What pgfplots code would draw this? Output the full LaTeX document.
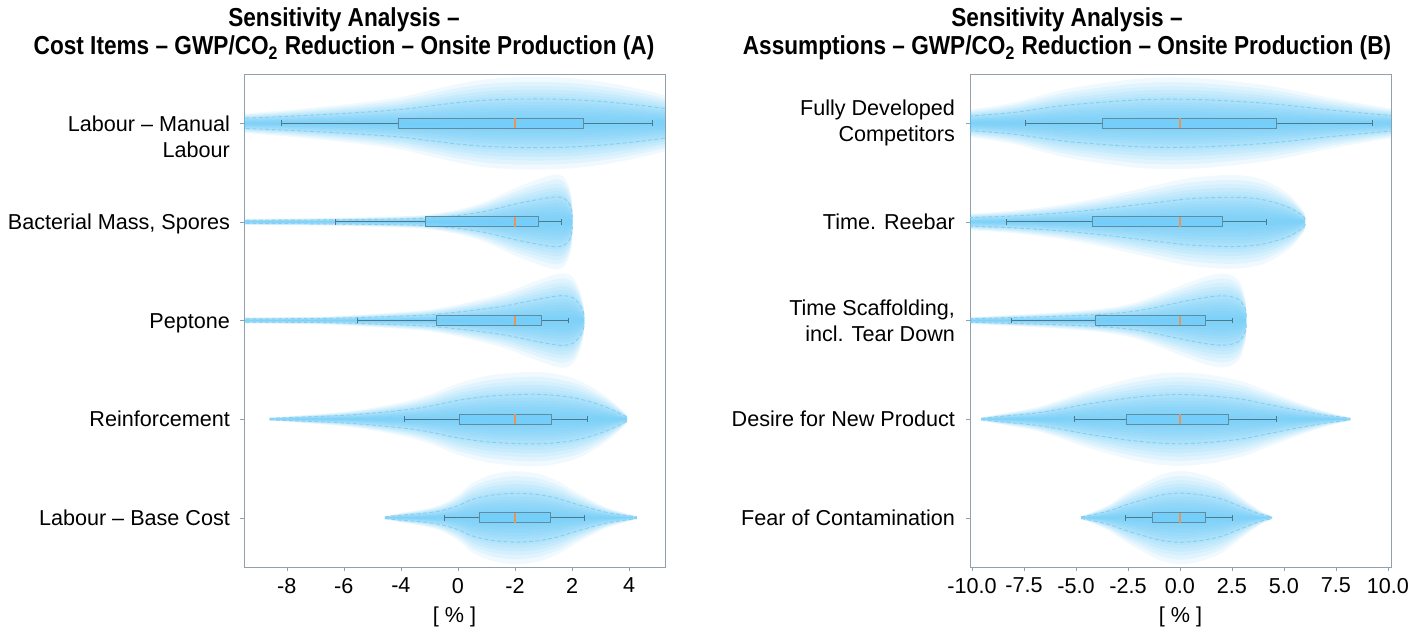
\documentclass[border=0pt]{standalone}
\usepackage{fontspec}
\setmainfont{Liberation Sans}
\newfontfamily\titlefont[FakeStretch=0.87]{Liberation Sans}
\usepackage{pgfplots}
\pgfplotsset{compat=1.18}
\usepackage{pgfplotstable}
\usepgfplotslibrary{fillbetween,statistics}

\definecolor{vcol}{RGB}{80,192,245}
\definecolor{dashcol}{RGB}{135,205,238}
\definecolor{boxfill}{RGB}{110,205,250}
\definecolor{boxedge}{RGB}{95,140,160}
\definecolor{whcol}{RGB}{80,120,140}
\definecolor{medcol}{RGB}{230,150,90}
\definecolor{axcol}{RGB}{145,160,170}

% violin profiles: x, half width of the dashed outline (y units)
\pgfplotstableread{
x w
-11 0.03
-9.6 0.05
-8 0.07
-6 0.10
-5 0.118
-4 0.14
-3 0.175
-2 0.21
-1 0.235
0 0.245
1 0.247
2 0.24
3 0.222
4 0.195
5 0.16
6 0.12
7 0.08
8 0.05
}\vLa
\pgfplotstableread{
x w
-11 0.015
-8 0.018
-6 0.022
-4 0.03
-3 0.04
-2 0.065
-1.5 0.085
-1 0.11
-0.5 0.145
0 0.18
0.5 0.21
1 0.237
1.46 0.254
1.7 0.24
1.85 0.205
1.95 0.16
1.99 0.118
2.02 0.05
}\vLb
\pgfplotstableread{
x w
-11 0.015
-7 0.02
-5.5 0.03
-4 0.045
-3 0.058
-2 0.085
-1 0.12
-0.3 0.15
0.3 0.185
0.9 0.22
1.6 0.252
2.0 0.235
2.25 0.17
2.4 0.085
2.43 0.03
}\vLc
\pgfplotstableread{
x w
-8.6 0.008
-7.5 0.02
-6.1 0.037
-5 0.06
-3.8 0.095
-3 0.13
-2 0.19
-1 0.23
0 0.248
1 0.25
2 0.22
2.7 0.17
3.2 0.12
3.6 0.07
3.93 0.02
}\vLd
\pgfplotstableread{
x w
-4.56 0.008
-4 0.025
-3.2 0.045
-2.6 0.07
-2 0.12
-1.5 0.185
-0.8 0.23
0 0.248
0.8 0.235
1.5 0.195
2 0.15
2.6 0.1
3.2 0.055
3.8 0.027
4.27 0.008
}\vLe
\pgfplotstableread{
x w
-12 0.05
-10.1 0.074
-8 0.11
-5.8 0.175
-4 0.21
-2 0.238
-0.5 0.245
1 0.24
2.5 0.225
4 0.205
5.5 0.175
7 0.14
8.5 0.11
10.1 0.08
12 0.05
}\vRa
\pgfplotstableread{
x w
-12 0.03
-10.1 0.044
-8 0.06
-5.8 0.09
-4 0.125
-2.6 0.16
-1 0.2
0.5 0.235
2.2 0.25
3.2 0.245
4 0.225
4.8 0.18
5.4 0.13
5.95 0.055
6.02 0.02
}\vRb
\pgfplotstableread{
x w
-12 0.012
-10.1 0.018
-8 0.03
-6 0.042
-4.2 0.058
-3 0.075
-2 0.1
-1 0.14
0 0.185
0.6 0.21
1.3 0.237
2.0 0.25
2.5 0.24
2.9 0.2
3.15 0.11
3.19 0.04
}\vRc
\pgfplotstableread{
x w
-9.56 0.008
-8.5 0.03
-7 0.06
-5.8 0.1
-4.5 0.15
-2.6 0.21
-1.2 0.24
0 0.25
1.5 0.235
3 0.2
4.2 0.15
5.4 0.1
6.3 0.065
7 0.04
8.19 0.008
}\vRd
\pgfplotstableread{
x w
-4.76 0.008
-4.2 0.03
-3.4 0.07
-2.6 0.13
-1.8 0.18
-0.9 0.23
0 0.25
0.9 0.235
1.9 0.195
2.6 0.14
3.3 0.08
3.9 0.035
4.43 0.008
}\vRe

\newcommand{\violin}[3]{%
  \pgfplotsinvokeforeach{0.15,0.27,0.39,0.51,0.63,0.75,0.87,0.99,1.11,1.24,1.38,1.53,1.7,1.9}{%
    \addplot[draw=none, smooth, tension=0.5, name path=u#3-##1, forget plot]
      table[x=x, y expr=#2+##1*\thisrow{w}] {#1};
    \addplot[draw=none, smooth, tension=0.5, name path=l#3-##1, forget plot]
      table[x=x, y expr=#2-##1*\thisrow{w}] {#1};
    \addplot[fill=vcol, fill opacity=0.09, draw=none, forget plot]
      fill between[of=u#3-##1 and l#3-##1];
  }
  \addplot[vdash] table[x=x, y expr=#2+\thisrow{w}] {#1};
  \addplot[vdash] table[x=x, y expr=#2-\thisrow{w}] {#1};
}
\newcommand{\bx}[6]{%
  \addplot[boxplot prepared={draw position=#1, lower whisker=#2,
      lower quartile=#3, median=#4, upper quartile=#5, upper whisker=#6,
      box extend=0.1, whisker extend=0.06, draw direction=x},
    draw=boxedge, fill=boxfill, fill opacity=0.6, line width=0.5pt] coordinates {};
}

\pgfplotsset{
  vdash/.style={dashcol, line width=0.45pt, dash pattern=on 2pt off 1.2pt, smooth, tension=0.5, forget plot},
  violinax/.style={
    width=210.5pt, height=246.5pt, scale only axis,
    ymin=-0.5, ymax=4.5, ytick={0,...,4},
    axis line style={draw=axcol}, tick style={draw=axcol},
    tick align=outside, major tick length=2pt,
    xtick pos=bottom, ytick pos=left,
    ticklabel style={font=\fontsize{10.8}{13}\selectfont},
    label style={font=\fontsize{10.8}{13}\selectfont},
    xlabel={[ \% ]},
    boxplot/every median/.style={draw=medcol, line width=0.8pt},
    boxplot/every whisker/.style={draw=whcol},
  },
}
\tikzset{ttl/.style={anchor=base, font=\titlefont\bfseries\fontsize{13}{15}\selectfont}}

\begin{document}
\begin{tikzpicture}

\node[ttl] at (172pt,-13.5pt) {Sensitivity Analysis –};
\node[ttl] at (172pt,-27.5pt) {Cost Items – GWP/CO\textsubscript{2} Reduction – Onsite Production (A)};
\node[ttl] at (533.5pt,-13.5pt) {Sensitivity Analysis –};
\node[ttl] at (533.5pt,-27.5pt) {Assumptions – GWP/CO\textsubscript{2} Reduction – Onsite Production (B)};

\begin{axis}[violinax,
  at={(122pt,-283.5pt)}, anchor=south west,
  xmin=-9.5, xmax=5.26,
  xtick={-8,-6,-4,-2,0,2,4},
  xticklabels={-8,-6,-4,0,-2,2,4},
  yticklabels={Labour – Base Cost, Reinforcement, Peptone, {Bacterial Mass, Spores},
    {\begin{tabular}[t]{@{}r@{}}Labour – Manual\\Labour\end{tabular}}},
  yticklabel style={anchor=base east, yshift=-3.9pt, xshift=-1.5pt},
]
\violin{\vLa}{4}{a}
\violin{\vLb}{3}{b}
\violin{\vLc}{2}{c}
\violin{\vLd}{1}{d}
\violin{\vLe}{0}{e}
\bx{4}{-8.2}{-4.09}{0}{2.42}{4.82}
\bx{3}{-6.28}{-3.13}{0}{0.82}{1.63}
\bx{2}{-5.53}{-2.75}{0}{0.94}{1.87}
\bx{1}{-3.89}{-1.95}{0}{1.27}{2.55}
\bx{0}{-2.48}{-1.23}{0}{1.23}{2.43}
\end{axis}

\begin{axis}[violinax,
  at={(485pt,-283.5pt)}, anchor=south west,
  xmin=-10.1, xmax=10.15,
  xtick={-10,-7.5,-5,-2.5,0,2.5,5,7.5,10},
  xticklabels={-10.0,-7.5,-5.0,-2.5,0.0,2.5,5.0,7.5,10.0},
  yticklabels={Fear of Contamination, Desire for New Product,
    {Time Scaffolding,\\incl. Tear Down}, Time. Reebar, {Fully Developed\\Competitors}},
  yticklabel style={align=right, xshift=-2pt},
]
\violin{\vRa}{4}{f}
\violin{\vRb}{3}{g}
\violin{\vRc}{2}{h}
\violin{\vRd}{1}{i}
\violin{\vRe}{0}{j}
\bx{4}{-7.45}{-3.72}{0}{4.62}{9.24}
\bx{3}{-8.36}{-4.2}{0}{2.06}{4.14}
\bx{2}{-8.1}{-4.08}{0}{1.25}{2.51}
\bx{1}{-5.08}{-2.56}{0}{2.32}{4.64}
\bx{0}{-2.6}{-1.33}{0}{1.25}{2.51}
\end{axis}
\useasboundingbox (0,0) rectangle (713pt,-314.5pt);
\end{tikzpicture}
\end{document}
